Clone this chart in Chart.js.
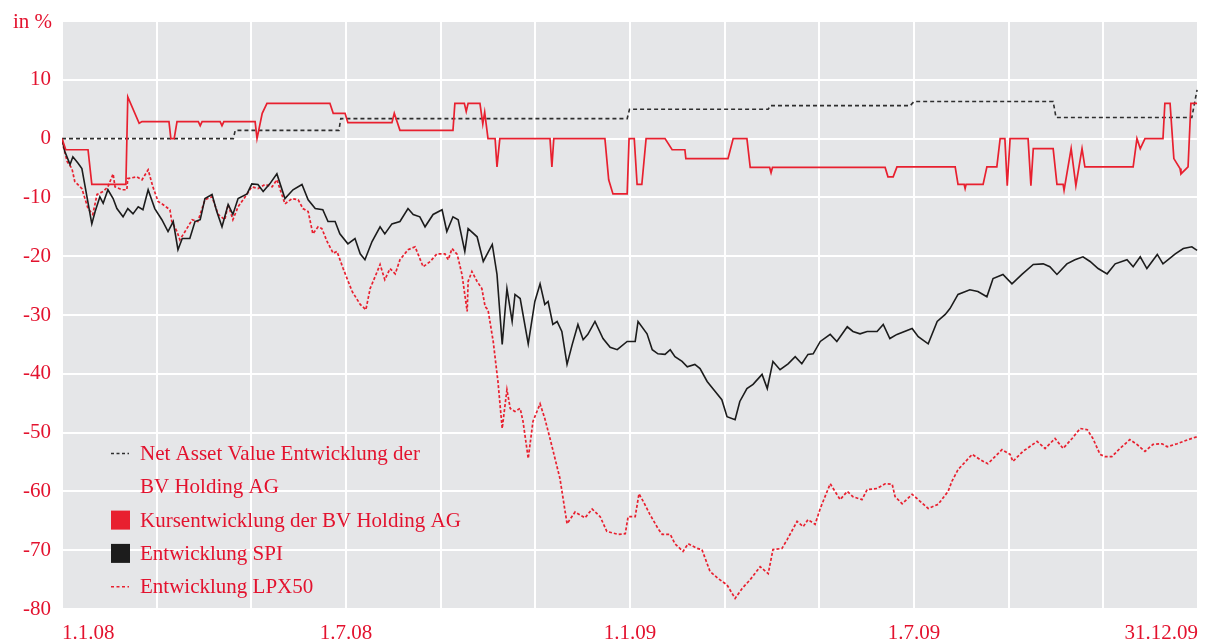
<!DOCTYPE html>
<html>
<head>
<meta charset="utf-8">
<script src="https://cdn.jsdelivr.net/npm/chart.js@4/dist/chart.umd.min.js"></script>
<style>
html,body{margin:0;padding:0;background:#ffffff;}
#wrap{width:1207px;height:644px;position:relative;}
</style>
</head>
<body>
<div id="wrap"><canvas id="c" width="1207" height="644"></canvas></div>
<script>
// ---- x axis: months since 1.1.08 ----
const xTickMonths = [0, 6, 12, 18, 24];
const xTickLabels = ['1.1.08', '1.7.08', '1.1.09', '1.7.09', '31.12.09'];
const yUnitLabel = 'in %';

const seriesLabels = [
  ['Net Asset Value Entwicklung der', 'BV Holding AG'],
  ['Kursentwicklung der BV Holding AG'],
  ['Entwicklung SPI'],
  ['Entwicklung LPX50']
];

// [month, %] pairs
const navSeries = [[0,0],[3.62,0],[3.66,1.4],[5.85,1.4],[5.89,3.4],[11.94,3.4],[11.99,5.0],[14.92,5.0],[14.96,5.6],[17.92,5.6],[18.0,6.3],[20.94,6.3],[21.0,3.6],[23.87,3.6],[23.98,8.3]];

const kursSeries = [[0,0],[0.08,-1.9],[0.55,-1.9],[0.63,-7.8],[1.35,-7.8],[1.39,7.1],[1.63,2.6],[1.69,2.9],[2.26,2.9],[2.30,0],[2.37,0],[2.43,2.9],[2.88,2.9],[2.92,2.2],[2.96,2.9],[3.34,2.9],[3.38,2.2],[3.42,2.9],[4.08,2.9],[4.12,0],[4.23,4.3],[4.33,6.0],[5.66,6.0],[5.73,4.3],[5.98,4.3],[6.04,2.7],[6.97,2.7],[7.02,4.3],[7.14,1.4],[8.26,1.4],[8.30,6.0],[8.50,6.0],[8.54,4.6],[8.58,6.0],[8.83,6.0],[8.89,2.5],[8.93,4.5],[9.00,0],[9.15,0],[9.19,-4.8],[9.25,0],[10.31,0],[10.35,-4.8],[10.39,0],[11.47,0],[11.55,-7.0],[11.64,-9.4],[11.94,-9.4],[11.98,0],[12.09,0],[12.15,-7.8],[12.25,-7.8],[12.34,0],[12.74,0],[12.89,-1.9],[13.16,-1.9],[13.18,-3.4],[14.07,-3.4],[14.18,0],[14.47,0],[14.54,-4.9],[14.95,-4.9],[14.98,-5.8],[15.01,-4.9],[17.39,-4.9],[17.45,-6.5],[17.56,-6.5],[17.64,-4.8],[18.87,-4.8],[18.93,-7.8],[19.06,-7.8],[19.08,-8.5],[19.10,-7.8],[19.46,-7.8],[19.54,-4.8],[19.75,-4.8],[19.82,0],[19.92,0],[19.97,-8.0],[20.03,0],[20.41,0],[20.47,-8.0],[20.52,-1.7],[20.94,-1.7],[21.02,-7.8],[21.15,-7.8],[21.17,-8.8],[21.32,-1.7],[21.42,-8.0],[21.55,-1.7],[21.61,-4.8],[22.63,-4.8],[22.71,0],[22.78,-1.7],[22.88,0],[23.26,0],[23.30,6.0],[23.41,6.0],[23.49,-3.4],[23.62,-5.1],[23.64,-6.0],[23.79,-4.8],[23.85,6.0],[23.98,6.0]];

const spiSeries = [[0,0],[0.06,-2.2],[0.17,-4.4],[0.23,-3.1],[0.34,-4.2],[0.42,-5.1],[0.63,-14.5],[0.70,-12.4],[0.80,-9.9],[0.87,-11],[0.97,-8.7],[1.08,-10.2],[1.16,-11.9],[1.29,-13.3],[1.39,-11.9],[1.50,-12.8],[1.61,-11.6],[1.71,-12.1],[1.82,-8.7],[1.96,-11.9],[2.11,-13.8],[2.24,-15.8],[2.35,-14.1],[2.45,-18.9],[2.54,-17],[2.70,-17],[2.81,-14.1],[2.92,-13.8],[3.02,-10.2],[3.17,-9.5],[3.27,-12.4],[3.38,-15],[3.51,-11.2],[3.61,-12.9],[3.72,-10.2],[3.91,-9.4],[4.01,-7.7],[4.14,-7.8],[4.25,-9],[4.39,-7.7],[4.54,-6],[4.71,-10.2],[4.88,-8.7],[5.07,-7.8],[5.20,-10.4],[5.35,-11.9],[5.51,-12.1],[5.62,-14.1],[5.77,-14.1],[5.87,-16.2],[6.04,-17.9],[6.19,-17],[6.30,-19.6],[6.40,-20.6],[6.55,-17.5],[6.72,-15],[6.82,-16.2],[6.97,-14.5],[7.14,-14.1],[7.31,-11.9],[7.42,-12.9],[7.56,-13.3],[7.67,-15],[7.84,-12.9],[8.03,-12.1],[8.13,-15.8],[8.26,-13.3],[8.37,-13.8],[8.51,-19.2],[8.58,-15.3],[8.77,-16.7],[8.90,-20.9],[9.09,-18],[9.19,-23.1],[9.30,-35],[9.40,-25.5],[9.51,-31.1],[9.57,-26.5],[9.68,-27.2],[9.85,-34.9],[9.99,-27.7],[10.10,-24.7],[10.20,-28.2],[10.27,-27.7],[10.37,-31.6],[10.46,-31.1],[10.56,-32.8],[10.67,-38.4],[10.78,-35],[10.90,-31.6],[11.01,-34.2],[11.11,-33.3],[11.26,-31.1],[11.43,-34],[11.58,-35.5],[11.73,-35.9],[11.94,-34.5],[12.11,-34.5],[12.17,-31.1],[12.36,-33.2],[12.47,-35.9],[12.59,-36.6],[12.74,-36.7],[12.85,-35.9],[12.95,-37.1],[13.10,-37.9],[13.21,-38.8],[13.37,-38.4],[13.48,-39.1],[13.63,-41.3],[13.80,-43],[13.94,-44.4],[14.05,-47.3],[14.22,-47.8],[14.32,-44.7],[14.47,-42.5],[14.60,-41.8],[14.79,-40.1],[14.90,-42.5],[15.02,-37.9],[15.17,-39.3],[15.34,-38.3],[15.49,-37.1],[15.63,-38.3],[15.76,-36.7],[15.87,-36.6],[16.02,-34.5],[16.23,-33.3],[16.37,-34.5],[16.59,-32],[16.71,-32.8],[16.86,-33.2],[17.01,-32.8],[17.22,-32.8],[17.35,-31.6],[17.49,-34],[17.64,-33.3],[17.96,-32.3],[18.09,-33.7],[18.30,-34.9],[18.49,-31.1],[18.66,-29.9],[18.76,-28.9],[18.93,-26.5],[19.18,-25.7],[19.35,-26],[19.54,-26.9],[19.67,-23.8],[19.88,-23.1],[20.07,-24.7],[20.28,-23.1],[20.52,-21.4],[20.73,-21.3],[20.87,-21.8],[21.02,-23.1],[21.23,-21.3],[21.40,-20.6],[21.57,-20.1],[21.72,-20.9],[21.89,-22.1],[22.08,-23],[22.25,-21.3],[22.50,-20.6],[22.63,-21.8],[22.78,-20.1],[22.92,-22.1],[23.14,-19.7],[23.26,-21.3],[23.52,-19.6],[23.69,-18.7],[23.87,-18.4],[23.98,-19]];

const lpxSeries = [[0,-0.5],[0.11,-3.9],[0.21,-5.1],[0.27,-7.3],[0.42,-8.5],[0.55,-11.9],[0.65,-12.9],[0.74,-9.5],[0.87,-9],[0.97,-8.2],[1.08,-6],[1.12,-8.2],[1.27,-8.7],[1.37,-8.7],[1.39,-6.8],[1.58,-6.5],[1.69,-7],[1.82,-5.3],[1.92,-8.2],[2.03,-10.7],[2.13,-11.2],[2.28,-12.1],[2.32,-14.1],[2.43,-15.8],[2.49,-17.2],[2.60,-15.8],[2.75,-13.8],[2.87,-14.1],[3.02,-10.4],[3.17,-9.9],[3.30,-12.9],[3.44,-13.8],[3.51,-11.2],[3.61,-13.8],[3.72,-11.6],[3.87,-9.9],[4.01,-8.2],[4.14,-8.5],[4.29,-7.8],[4.44,-8.2],[4.54,-7],[4.71,-11.1],[4.86,-10.2],[4.99,-10.4],[5.09,-11.9],[5.20,-12.4],[5.30,-16.2],[5.41,-15],[5.49,-15.3],[5.60,-17.5],[5.73,-19.5],[5.81,-19.2],[5.94,-22.1],[6.13,-26],[6.30,-28.2],[6.42,-29.1],[6.51,-25.5],[6.66,-22.6],[6.72,-21.4],[6.82,-24],[6.93,-22.1],[7.04,-23],[7.14,-20.6],[7.31,-18.9],[7.46,-18.4],[7.52,-19.6],[7.63,-21.8],[7.78,-20.9],[7.92,-19.6],[8.09,-19.6],[8.16,-20.6],[8.24,-18.7],[8.35,-19.7],[8.45,-23.1],[8.56,-29.4],[8.58,-24.3],[8.66,-22.6],[8.77,-24.3],[8.87,-25.5],[8.94,-28.6],[9.00,-29.1],[9.11,-34.5],[9.21,-41.3],[9.30,-49.3],[9.40,-42.7],[9.47,-45.9],[9.57,-46.4],[9.68,-45.9],[9.74,-48.1],[9.85,-54.4],[9.95,-48.1],[10.10,-45.1],[10.20,-47.6],[10.31,-51],[10.52,-57.8],[10.67,-65.5],[10.84,-63.5],[11.05,-64.5],[11.20,-63],[11.37,-64.3],[11.51,-66.8],[11.75,-67.3],[11.90,-67.2],[11.96,-64.3],[12.11,-64.3],[12.19,-60.4],[12.28,-61.7],[12.42,-63.9],[12.59,-66.3],[12.68,-67.3],[12.85,-67.3],[12.95,-68.9],[13.12,-70.2],[13.23,-68.9],[13.42,-69.7],[13.52,-69.9],[13.69,-73.6],[13.86,-74.8],[14.05,-75.9],[14.22,-78.2],[14.37,-76.5],[14.54,-75],[14.75,-72.8],[14.92,-74],[15.02,-69.9],[15.21,-69.7],[15.32,-68.2],[15.53,-65.1],[15.66,-66],[15.76,-64.8],[15.91,-65.6],[16.02,-62.9],[16.23,-58.7],[16.44,-61.4],[16.59,-60],[16.71,-60.9],[16.90,-61.4],[17.01,-59.7],[17.22,-59.5],[17.39,-58.7],[17.54,-58.8],[17.60,-60.9],[17.75,-62.1],[17.96,-60.5],[18.09,-61.4],[18.30,-62.9],[18.51,-62.2],[18.72,-60],[18.80,-58.3],[18.93,-56.3],[19.23,-53.7],[19.40,-54.6],[19.56,-55.3],[19.86,-52.9],[20.03,-53.7],[20.09,-54.9],[20.30,-53.2],[20.60,-51.5],[20.77,-52.7],[20.98,-51],[21.15,-52.7],[21.34,-51],[21.51,-49.3],[21.66,-49.5],[21.78,-51],[21.93,-53.7],[22.04,-54.1],[22.18,-54.1],[22.35,-52.7],[22.56,-51.2],[22.71,-52],[22.88,-53.2],[23.05,-52],[23.24,-51.9],[23.35,-52.4],[23.56,-51.9],[23.79,-51.2],[23.98,-50.7]];

// ---- styling ----
const RED = '#e3122e';
const LINE_RED = '#e8202f';
const BLACK = '#1c1c1c';
const PLOT_BG = '#e5e6e8';
const FONT = '"Liberation Serif", "Times New Roman", serif';

const toXY = s => s.map(p => ({x: p[0], y: p[1]}));

const bgPlugin = {
  id: 'plotBg',
  beforeDraw(chart) {
    const {ctx, chartArea: a} = chart;
    ctx.save();
    ctx.fillStyle = PLOT_BG;
    ctx.fillRect(a.left, a.top, a.right - a.left, a.bottom - a.top);
    ctx.restore();
  }
};

const textPlugin = {
  id: 'unitAndLegend',
  afterDraw(chart) {
    const {ctx, chartArea: a} = chart;
    ctx.save();
    ctx.font = '21px ' + FONT;
    ctx.fillStyle = RED;
    ctx.textBaseline = 'alphabetic';
    ctx.textAlign = 'right';
    ctx.fillText(yUnitLabel, a.left - 10, 28);

    // legend
    ctx.textAlign = 'left';
    const mx = 111, tx = 140;
    let base = 460;
    const gap = 33.3;
    const ds = chart.data.datasets;
    [0, 1, 2, 3].forEach(i => {
      const d = ds[i];
      const lines = seriesLabels[i];
      const cy = base - 7;
      ctx.save();
      if (d.legendMarker === 'box') {
        ctx.fillStyle = d.borderColor;
        ctx.fillRect(mx, cy - 9, 19, 19);
      } else {
        ctx.strokeStyle = d.borderColor;
        ctx.lineWidth = 1.5;
        ctx.setLineDash([3, 2.5]);
        ctx.beginPath();
        ctx.moveTo(mx, cy + 0.5);
        ctx.lineTo(mx + 18, cy + 0.5);
        ctx.stroke();
      }
      ctx.restore();
      lines.forEach(t => {
        ctx.fillText(t, tx, base);
        base += gap;
      });
    });
    ctx.restore();
  }
};

const ctx = document.getElementById('c').getContext('2d');
new Chart(ctx, {
  type: 'line',
  data: {
    datasets: [
      {label: seriesLabels[0].join(' '), data: toXY(navSeries), borderColor: '#2e2e2e', borderWidth: 1.6, borderDash: [4, 3], pointRadius: 0, tension: 0, order: 3, legendMarker: 'dash'},
      {label: seriesLabels[1].join(' '), data: toXY(kursSeries), borderColor: LINE_RED, borderWidth: 1.7, pointRadius: 0, tension: 0, order: 1, legendMarker: 'box'},
      {label: seriesLabels[2].join(' '), data: toXY(spiSeries), borderColor: BLACK, borderWidth: 1.6, pointRadius: 0, tension: 0, order: 2, legendMarker: 'box'},
      {label: seriesLabels[3].join(' '), data: toXY(lpxSeries), borderColor: LINE_RED, borderWidth: 1.7, borderDash: [3, 2], pointRadius: 0, tension: 0, order: 4, legendMarker: 'dash'}
    ]
  },
  options: {
    responsive: false,
    animation: false,
    devicePixelRatio: 1,
    layout: {padding: {top: 21, right: 9, left: 0, bottom: 0}},
    plugins: {legend: {display: false}, tooltip: {enabled: false}},
    scales: {
      x: {
        type: 'linear',
        min: 0, max: 24,
        afterFit(scale) { scale.height = 35; scale.paddingLeft = 0; scale.paddingRight = 0; },
        grid: {color: '#ffffff', lineWidth: 2, drawTicks: false},
        border: {display: false},
        ticks: {
          stepSize: 2, autoSkip: false, maxRotation: 0, align: 'inner', padding: 12,
          color: RED, font: {family: FONT, size: 21},
          callback(v) { const i = xTickMonths.indexOf(v); return i >= 0 ? xTickLabels[i] : ''; }
        }
      },
      y: {
        min: -80, max: 20,
        afterFit(scale) { scale.width = 62; scale.paddingTop = 0; scale.paddingBottom = 0; },
        grid: {color: '#ffffff', lineWidth: 2, drawTicks: false},
        border: {display: false},
        ticks: {
          stepSize: 10, padding: 11,
          color: RED, font: {family: FONT, size: 21},
          callback(v) { return v >= 20 ? '' : String(v); }
        }
      }
    }
  },
  plugins: [bgPlugin, textPlugin]
});
</script>
</body>
</html>
